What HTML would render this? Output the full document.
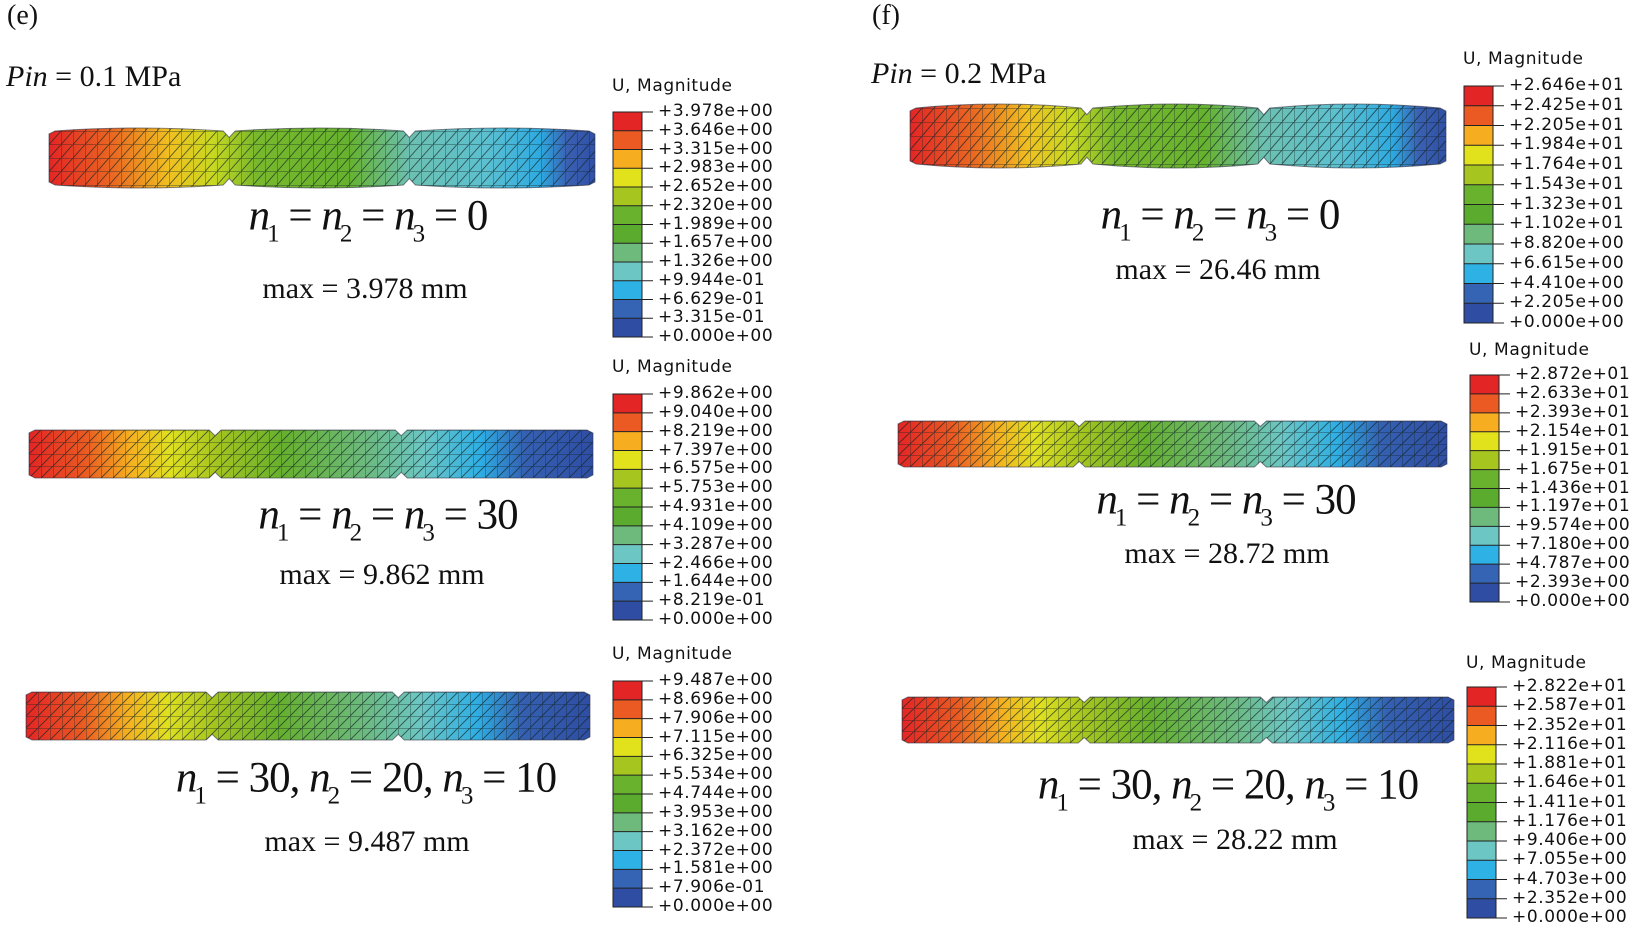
<!DOCTYPE html>
<html><head><meta charset="utf-8">
<style>
body{margin:0;width:1644px;height:931px;background:#fff;position:relative;overflow:hidden;font-family:"Liberation Serif",serif}
.t{position:absolute;white-space:nowrap;color:#111}
.eq{font-size:43px;transform:translate(-50%,-50%);letter-spacing:-1px}
.eq i{font-style:italic}
.eq sub{font-size:25px;font-style:normal;vertical-align:-12px;margin-left:-2px}
.mx{font-size:30px;transform:translate(-50%,-50%)}
.lg{position:absolute;font-family:"DejaVu Sans",sans-serif;font-size:17px;letter-spacing:0.6px;color:#111}
</style></head><body>
<div class="t" style="left:7px;top:0px;font-size:28px">(e)</div>
<div class="t" style="left:872px;top:0px;font-size:28px">(f)</div>
<div class="t" style="left:6px;top:60px;font-size:30px"><i>Pin</i> = 0.1 MPa</div>
<div class="t" style="left:871px;top:57px;font-size:30px"><i>Pin</i> = 0.2 MPa</div>

<div class="t eq" style="left:368px;top:220px"><i>n</i><sub>1</sub> = <i>n</i><sub>2</sub> = <i>n</i><sub>3</sub> = 0</div>
<div class="t mx" style="left:365px;top:289px">max = 3.978 mm</div>
<div class="t eq" style="left:388px;top:519px"><i>n</i><sub>1</sub> = <i>n</i><sub>2</sub> = <i>n</i><sub>3</sub> = 30</div>
<div class="t mx" style="left:382px;top:575px">max = 9.862 mm</div>
<div class="t eq" style="left:366px;top:782px"><i>n</i><sub>1</sub> = 30, <i>n</i><sub>2</sub> = 20, <i>n</i><sub>3</sub> = 10</div>
<div class="t mx" style="left:367px;top:842px">max = 9.487 mm</div>

<div class="t eq" style="left:1220px;top:219px"><i>n</i><sub>1</sub> = <i>n</i><sub>2</sub> = <i>n</i><sub>3</sub> = 0</div>
<div class="t mx" style="left:1218px;top:270px">max = 26.46 mm</div>
<div class="t eq" style="left:1226px;top:504px"><i>n</i><sub>1</sub> = <i>n</i><sub>2</sub> = <i>n</i><sub>3</sub> = 30</div>
<div class="t mx" style="left:1227px;top:554px">max = 28.72 mm</div>
<div class="t eq" style="left:1228px;top:789px"><i>n</i><sub>1</sub> = 30, <i>n</i><sub>2</sub> = 20, <i>n</i><sub>3</sub> = 10</div>
<div class="t mx" style="left:1235px;top:840px">max = 28.22 mm</div>

<svg id="s" width="1644" height="931" style="position:absolute;left:0;top:0"></svg>
<div id="L"></div>
<script>
var cr=["#e42525","#ea5a22","#f6ad1f","#e2e21c","#a6c51f","#68b22e","#5aab2e","#6dba7c","#6cc6c4","#2eb2e6","#3564b4","#2f4ea3"];
var legends=[
[613,88,112,337,["+3.978e+00","+3.646e+00","+3.315e+00","+2.983e+00","+2.652e+00","+2.320e+00","+1.989e+00","+1.657e+00","+1.326e+00","+9.944e-01","+6.629e-01","+3.315e-01","+0.000e+00"]],
[613,369,394,620,["+9.862e+00","+9.040e+00","+8.219e+00","+7.397e+00","+6.575e+00","+5.753e+00","+4.931e+00","+4.109e+00","+3.287e+00","+2.466e+00","+1.644e+00","+8.219e-01","+0.000e+00"]],
[613,656,681,907,["+9.487e+00","+8.696e+00","+7.906e+00","+7.115e+00","+6.325e+00","+5.534e+00","+4.744e+00","+3.953e+00","+3.162e+00","+2.372e+00","+1.581e+00","+7.906e-01","+0.000e+00"]],
[1464,61,86,323,["+2.646e+01","+2.425e+01","+2.205e+01","+1.984e+01","+1.764e+01","+1.543e+01","+1.323e+01","+1.102e+01","+8.820e+00","+6.615e+00","+4.410e+00","+2.205e+00","+0.000e+00"]],
[1470,352,375,602,["+2.872e+01","+2.633e+01","+2.393e+01","+2.154e+01","+1.915e+01","+1.675e+01","+1.436e+01","+1.197e+01","+9.574e+00","+7.180e+00","+4.787e+00","+2.393e+00","+0.000e+00"]],
[1467,665,687,918,["+2.822e+01","+2.587e+01","+2.352e+01","+2.116e+01","+1.881e+01","+1.646e+01","+1.411e+01","+1.176e+01","+9.406e+00","+7.055e+00","+4.703e+00","+2.352e+00","+0.000e+00"]]];
var svg='',html='';
legends.forEach(function(L){
 var x=L[0],ty=L[1],t=L[2],b=L[3],labels=L[4];
 var n=12,h=(b-t)/n;
 for(var i=0;i<n;i++){svg+='<rect x="'+x+'" y="'+(t+i*h)+'" width="29" height="'+(h+0.5)+'" fill="'+cr[i]+'"/>';}
 for(var i=0;i<=n;i++){var y=t+i*h;svg+='<line x1="'+x+'" x2="'+(x+40)+'" y1="'+y+'" y2="'+y+'" stroke="#222" stroke-width="1"/>';}
 svg+='<rect x="'+x+'" y="'+t+'" width="29" height="'+(b-t)+'" fill="none" stroke="#222"/>';
 html+='<div class="lg" style="left:'+(x-1)+'px;top:'+(ty-12)+'px">U, Magnitude</div>';
 labels.forEach(function(s,i){html+='<div class="lg" style="left:'+(x+45)+'px;top:'+(t+i*h-11)+'px">'+s+'</div>';});
});
function body(id,x,y,w,h,stops,necks,bul){
 var g='<defs><linearGradient id="g'+id+'" x1="0" x2="1">';
 stops.forEach(function(s){g+='<stop offset="'+s[0]+'" stop-color="'+s[1]+'"/>';});
 g+='</linearGradient>';
 var p='M'+x+','+(y+3);var segs=[x].concat(necks.map(function(n){return x+w*n;})).concat([x+w]);
 var top='',bot='';
 for(var i=0;i<segs.length-1;i++){var a=segs[i],c=segs[i+1];
  top+=' L'+(a+6)+','+(y)+' Q'+((a+c)/2)+','+(y-bul)+' '+(c-6)+','+y;
  if(i<segs.length-2) top+=' L'+c+','+(y+h*0.12);}
 p+=top+' L'+(x+w)+','+(y+3)+' L'+(x+w)+','+(y+h-3);
 for(var i=segs.length-2;i>=0;i--){var a=segs[i],c=segs[i+1];
  bot+=' L'+(c-6)+','+(y+h)+' Q'+((a+c)/2)+','+(y+h+bul)+' '+(a+6)+','+(y+h);
  if(i>0) bot+=' L'+a+','+(y+h*0.88);}
 p+=bot+' L'+x+','+(y+h-3)+' Z';
 g+='<clipPath id="c'+id+'"><path d="'+p+'"/></clipPath>';
 g+='<pattern id="m'+id+'" width="12" height="'+(h/4)+'" patternUnits="userSpaceOnUse" x="'+x+'" y="'+y+'"><path d="M0,0H12M0,0V'+(h/4)+'M0,'+(h/4)+'L12,0" stroke="#122" stroke-width="0.9" fill="none" opacity="0.7"/></pattern></defs>';
 g+='<g clip-path="url(#c'+id+')"><rect x="'+x+'" y="'+(y-10)+'" width="'+w+'" height="'+(h+20)+'" fill="url(#g'+id+')"/><rect x="'+x+'" y="'+(y-10)+'" width="'+w+'" height="'+(h+20)+'" fill="url(#m'+id+')"/></g>';
 g+='<path d="'+p+'" fill="none" stroke="#334" stroke-width="1" opacity="0.6"/>';
 return g;
}
var S1=[[0,"#e42525"],[0.12,"#ea6a22"],[0.22,"#f0c020"],[0.3,"#c8d820"],[0.38,"#78b82c"],[0.55,"#66b22e"],[0.66,"#6cc0b0"],[0.8,"#5cc0d0"],[0.9,"#2eaae0"],[0.95,"#3a60b2"],[1,"#3050a5"]];
var S2=[[0,"#e42525"],[0.1,"#ea5a22"],[0.18,"#f5b020"],[0.25,"#e0e020"],[0.33,"#a6c51f"],[0.45,"#66b02e"],[0.6,"#6cba80"],[0.7,"#6cc6c4"],[0.8,"#2eaee4"],[0.88,"#3560b2"],[1,"#2f4ea3"]];
svg+=body(1,49,131,546,54,S1,[0.33,0.66],6);
svg+=body(2,29,430,564,48,S2,[0.33,0.66],0);
svg+=body(3,26,692,564,48,S2,[0.33,0.66],0);
svg+=body(4,910,108,536,56,S1,[0.33,0.66],8);
svg+=body(5,898,421,549,46,S2,[0.33,0.66],0);
svg+=body(6,902,697,552,46,S2,[0.33,0.66],0);
document.getElementById('s').innerHTML=svg;
document.getElementById('L').innerHTML=html;
</script>
</body></html>
